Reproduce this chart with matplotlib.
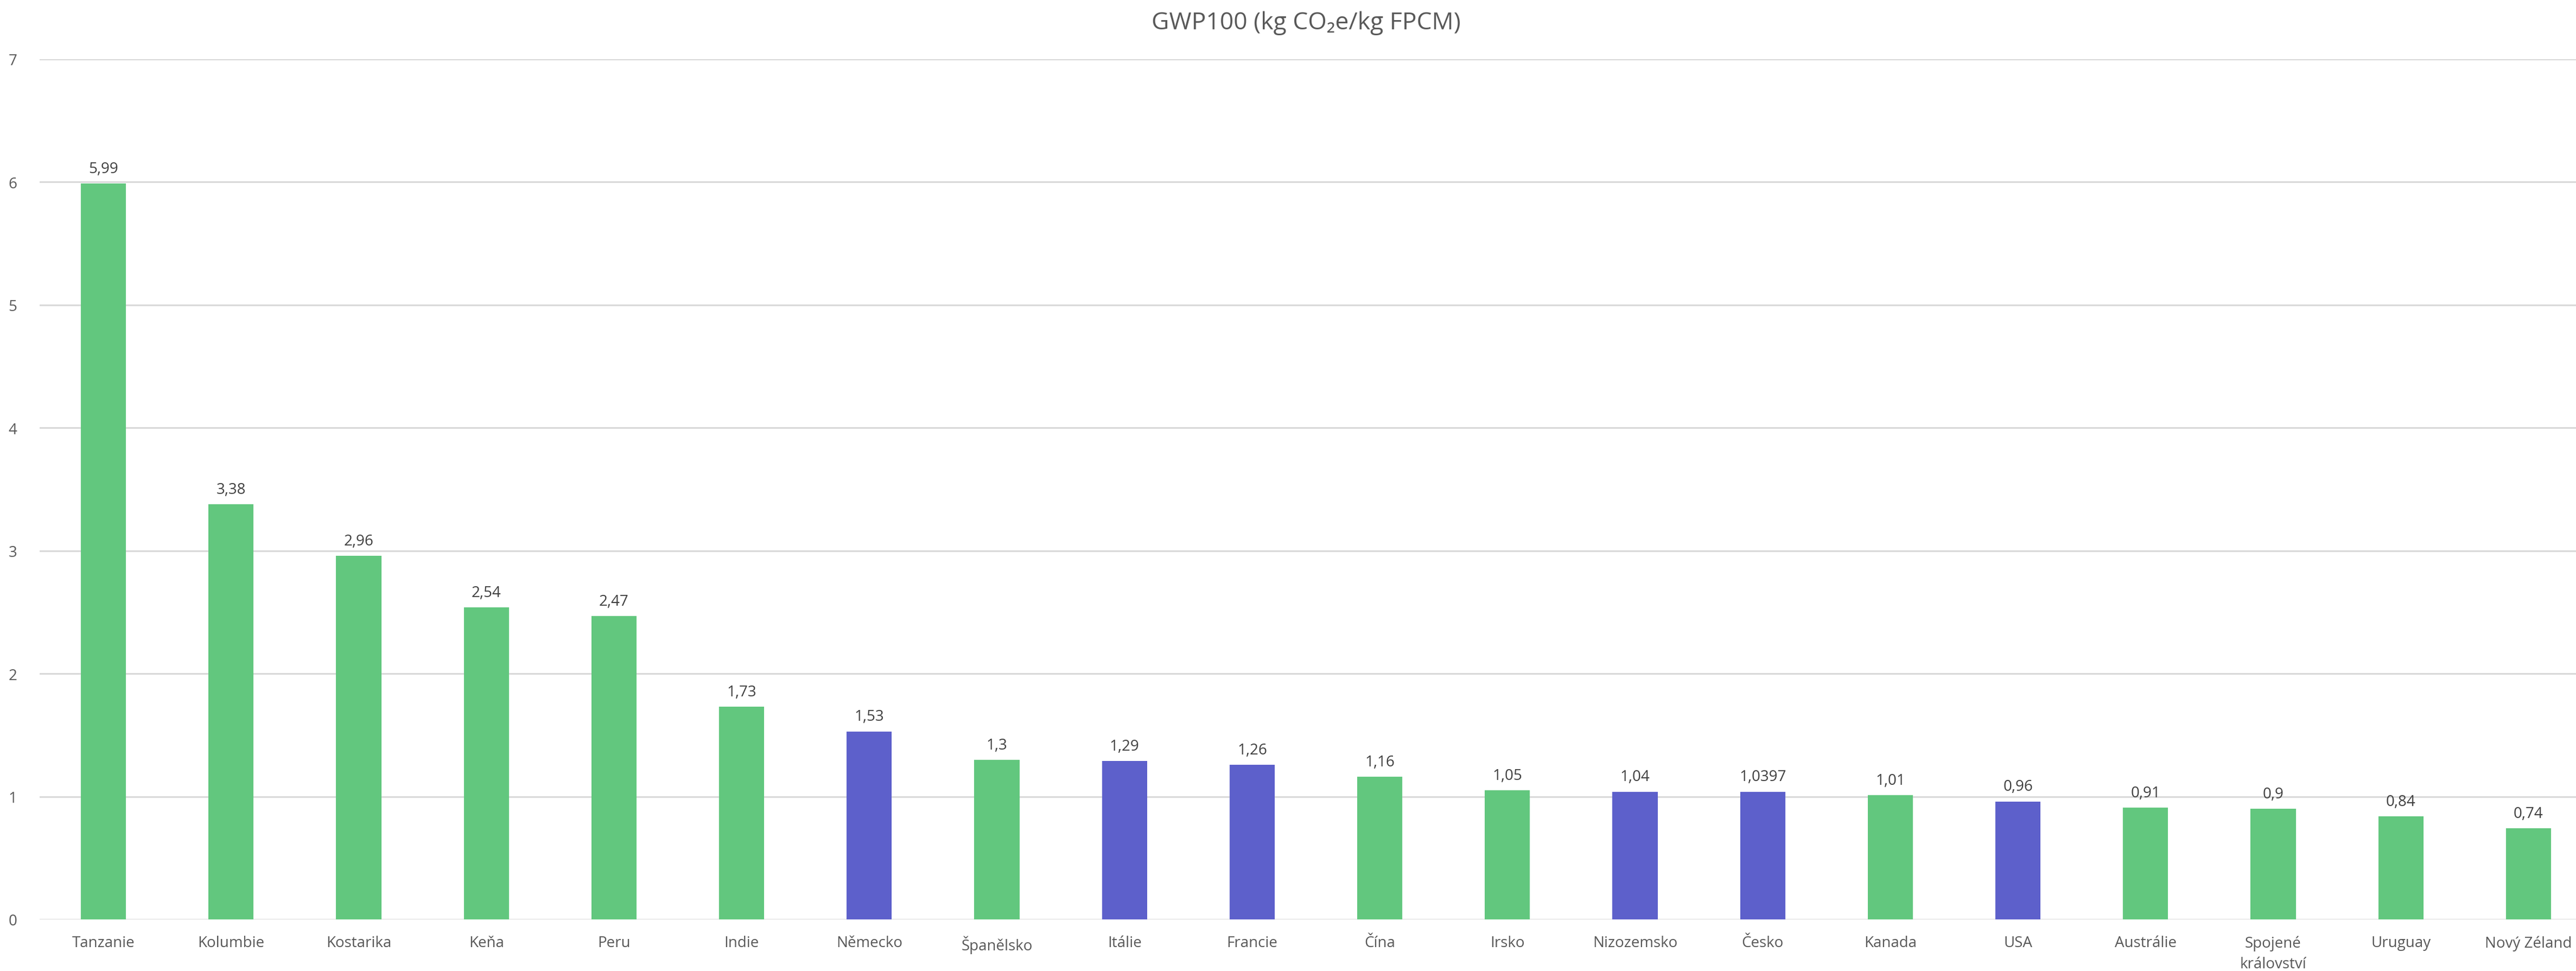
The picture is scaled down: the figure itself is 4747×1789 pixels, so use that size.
import matplotlib.pyplot as plt

# data
countries = ['Tanzanie', 'Kolumbie', 'Kostarika', 'Keňa', 'Peru', 'Indie', 'Německo',
             'Španělsko', 'Itálie', 'Francie', 'Čína', 'Irsko', 'Nizozemsko', 'Česko',
             'Kanada', 'USA', 'Austrálie', 'Spojené\nkrálovství', 'Uruguay', 'Nový Zéland']
gwp = [5.99, 3.38, 2.96, 2.54, 2.47, 1.73, 1.53, 1.3, 1.29, 1.26, 1.16, 1.05, 1.04,
       1.0397, 1.01, 0.96, 0.91, 0.9, 0.84, 0.74]
highlight = ['Německo', 'Itálie', 'Francie', 'Nizozemsko', 'Česko', 'USA']
yticks = [0, 1, 2, 3, 4, 5, 6, 7]

green = '#62C77E'
blue = '#5D60CB'
grey = '#595959'
colors = [blue if c in highlight else green for c in countries]

plt.rcParams['font.family'] = ['Open Sans', 'DejaVu Sans']

W, H = 4747, 1790
fig = plt.figure(figsize=(W / 100, H / 100), dpi=100)
left, right = 73 / W, 4777 / W
bottom, top = (H - 1695) / H, (H - 110) / H
ax = fig.add_axes([left, bottom, right - left, top - bottom])

x = range(len(countries))
bars = ax.bar(x, gwp, width=0.353, color=colors, zorder=3)

for b, v in zip(bars, gwp):
    ax.annotate(str(v).replace('.', ','), (b.get_x() + b.get_width() / 2, v),
                xytext=(0, 14.5), textcoords='offset points', ha='center', va='baseline',
                fontsize=20, color='#404040')

ax.set_xlim(-0.5, len(countries) - 0.5)
ax.set_ylim(0, 7)
ax.set_yticks(yticks)
ax.set_yticklabels([str(t) for t in yticks])
ax.set_xticks(list(x))
ax.set_xticklabels(countries, linespacing=1.5)
ax.tick_params(axis='both', length=0, labelsize=20, colors=grey)
ax.tick_params(axis='x', pad=21)
ax.tick_params(axis='y', pad=30)
ax.grid(axis='y', color='#D9D9D9', linewidth=2.2, zorder=0)
for s in ax.spines.values():
    s.set_visible(False)

fig.text(2407 / W, 1 - 43 / H, 'GWP100 (kg CO₂e/kg FPCM)', ha='center', va='center',
         fontsize=32, color=grey)

fig.savefig('out.png', dpi=100, facecolor='white')
